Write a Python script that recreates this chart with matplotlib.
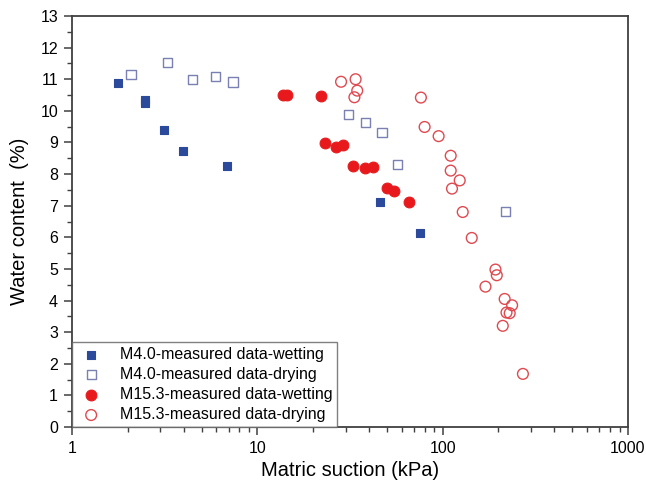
import matplotlib
matplotlib.use("Agg")
import matplotlib.pyplot as plt
from matplotlib.ticker import LogLocator, FixedLocator, MultipleLocator, NullFormatter

plt.rcParams['font.family'] = ['Liberation Sans', 'DejaVu Sans']

# M4.0 wetting
m4_wet_x = [1.77, 2.48, 2.48, 3.14, 3.95, 6.86, 46.1, 75.4]
m4_wet_y = [10.89, 10.35, 10.25, 9.40, 8.74, 8.26, 7.13, 6.15]
# M4.0 drying
m4_dry_x = [2.08, 3.26, 4.45, 5.95, 7.39, 30.9, 38.5, 47.0, 57.1, 218]
m4_dry_y = [11.15, 11.53, 10.98, 11.08, 10.91, 9.89, 9.63, 9.31, 8.30, 6.81]
# M15.3 wetting
m15_wet_x = [13.8, 14.5, 22.0, 23.3, 26.6, 28.9, 33.0, 38.2, 42.0, 50.0, 54.6, 66.1]
m15_wet_y = [10.51, 10.51, 10.48, 8.99, 8.87, 8.92, 8.27, 8.20, 8.23, 7.56, 7.45, 7.11]
# M15.3 drying
m15_dry_x = [28.3, 33.9, 34.6, 33.4, 76.3, 79.9, 95.1, 110.5, 110.5, 123.6, 112.3, 128.3,
             143.5, 192.7, 195.9, 170.2, 216, 237, 221, 230, 211, 271]
m15_dry_y = [10.92, 11.0, 10.64, 10.43, 10.42, 9.49, 9.2, 8.58, 8.11, 7.8, 7.54, 6.8,
             5.98, 4.98, 4.8, 4.44, 4.05, 3.85, 3.62, 3.6, 3.2, 1.68]

labels = ["M4.0-measured data-wetting", "M4.0-measured data-drying",
          "M15.3-measured data-wetting", "M15.3-measured data-drying"]

fig = plt.figure(figsize=(6.46, 4.95), dpi=100)
ax = fig.add_axes([72/646, 1-427/495, (628-72)/646, (427-16)/495])

blue = '#2b4a9c'
blue_open = '#7a80b2'
red = '#e8191c'
red_open = '#df4a50'

ax.scatter(m4_wet_x, m4_wet_y, marker='s', s=40, color=blue, edgecolors=blue, linewidths=0.8, label=labels[0], zorder=3)
ax.scatter(m4_dry_x, m4_dry_y, marker='s', s=44, facecolors='none', edgecolors=blue_open, linewidths=1.0, label=labels[1], zorder=3)
ax.scatter(m15_wet_x, m15_wet_y, marker='o', s=60, color=red, edgecolors=red, linewidths=0.8, label=labels[2], zorder=3)
ax.scatter(m15_dry_x, m15_dry_y, marker='o', s=60, facecolors='none', edgecolors=red_open, linewidths=1.0, label=labels[3], zorder=3)

ax.set_xscale('log')
ax.set_xlim(1, 1000)
ax.set_ylim(0, 13)
ax.xaxis.set_major_locator(FixedLocator([1, 10, 100, 1000]))
ax.set_xticklabels(['1', '10', '100', '1000'])
ax.xaxis.set_minor_locator(LogLocator(base=10, subs=range(2, 10)))
ax.xaxis.set_minor_formatter(NullFormatter())
ax.yaxis.set_major_locator(MultipleLocator(1))
ax.yaxis.set_minor_locator(MultipleLocator(0.5))

spine_col = '#404040'
for sp in ax.spines.values():
    sp.set_color(spine_col)
    sp.set_linewidth(1.3)
ax.tick_params(which='major', direction='out', length=6, width=1.1, color=spine_col, labelsize=11.5, pad=4)
ax.tick_params(which='minor', direction='out', length=3.5, width=1.0, color=spine_col)
ax.tick_params(top=False, right=False, which='both')

ax.set_xlabel('Matric suction (kPa)', fontsize=14.5, labelpad=4)
ax.set_ylabel('Water content  (%)', fontsize=14.5, labelpad=8)

leg = ax.legend(loc='lower left', bbox_to_anchor=(0, 0), fontsize=11.5, frameon=True,
                fancybox=False, edgecolor='#606060', borderpad=0.3, labelspacing=0.32,
                handletextpad=0.9, borderaxespad=0.0, handlelength=1.8, scatterpoints=1)
leg.get_frame().set_linewidth(1.0)

fig.savefig('out.png', dpi=100)
